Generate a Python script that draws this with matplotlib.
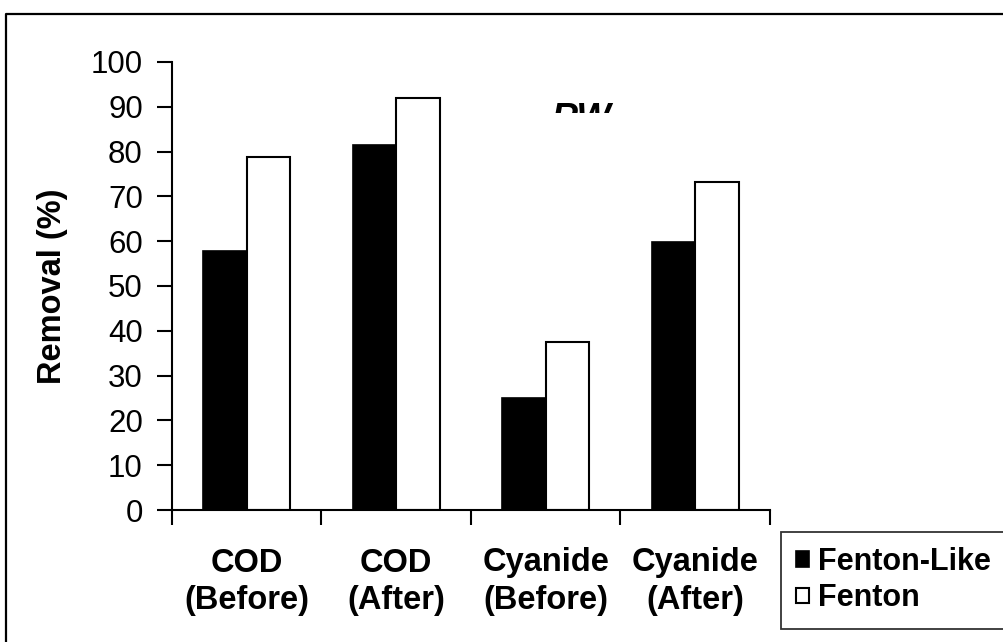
import numpy as np
import matplotlib
matplotlib.use("Agg")
import matplotlib.pyplot as plt
from matplotlib.lines import Line2D
from matplotlib.patches import Rectangle

plt.rcParams['font.family'] = ['Liberation Sans', 'DejaVu Sans']

categories = ["COD\n(Before)", "COD\n(After)", "Cyanide\n(Before)", "Cyanide\n(After)"]
fenton_like = [57.8, 81.4, 25.0, 59.9]
fenton = [78.7, 92.0, 37.5, 73.3]
series_names = ["Fenton-Like", "Fenton"]

W, H = 1004, 642
fig = plt.figure(figsize=(W / 100, H / 100), dpi=100)
ax = fig.add_axes([172 / W, 1 - 510 / H, 598 / W, 448 / H])

x = np.arange(len(categories)) + 0.5
bw = 0.29
ax.bar(x - bw / 2, fenton_like, bw, color="black", edgecolor="black",
       linewidth=1.2, label=series_names[0])
ax.bar(x + bw / 2, fenton, bw, color="white", edgecolor="black",
       linewidth=1.5, label=series_names[1])

ax.set_xlim(0, 4)
ax.set_ylim(0, 100)
ax.set_yticks(np.arange(0, 101, 10))
ax.tick_params(axis="y", labelsize=22.5, length=11, width=1.5, pad=10)

# category boundaries as major ticks, names centred as minor ticks
ax.set_xticks(np.arange(0, 5))
ax.set_xticklabels([])
ax.set_xticks(x, minor=True)
ax.set_xticklabels(categories, minor=True, fontsize=23.5, fontweight="bold",
                   linespacing=1.25)
ax.tick_params(axis="x", which="major", length=11, width=1.5, direction="out")
ax.tick_params(axis="x", which="minor", length=0, pad=27)

for side in ["top", "right"]:
    ax.spines[side].set_visible(False)
for side in ["left", "bottom"]:
    ax.spines[side].set_linewidth(1.5)

ax.set_ylabel("Removal (%)", fontsize=23.5, fontweight="bold", va="center")
ax.yaxis.set_label_coords(-0.2, 0.5)

# title text half hidden behind the plot frame
rw = fig.text(551 / W, 1 - 102 / H, "RW", fontsize=26, fontweight="bold",
              fontstyle="italic", ha="left", va="top")
clip = Rectangle((0, 1 - 113 / H), 1, 113 / H, transform=fig.transFigure,
                 visible=False)
fig.add_artist(clip)
rw.set_clip_path(clip)

leg = fig.legend(loc="upper left", bbox_to_anchor=(781 / W, 1 - 532 / H),
                 prop={"weight": "bold", "size": 22},
                 frameon=True, fancybox=False, edgecolor="black",
                 handlelength=0.42, handleheight=0.42, handletextpad=0.3,
                 labelspacing=0.2, borderpad=0.5, borderaxespad=0)
leg.get_frame().set_linewidth(1.3)

# outer frame of the figure
fig.add_artist(Line2D([6 / W, 6 / W, 1], [0, 1 - 14 / H, 1 - 14 / H],
                      transform=fig.transFigure, color="black", linewidth=1.6))

fig.savefig("out.png", dpi=100)
